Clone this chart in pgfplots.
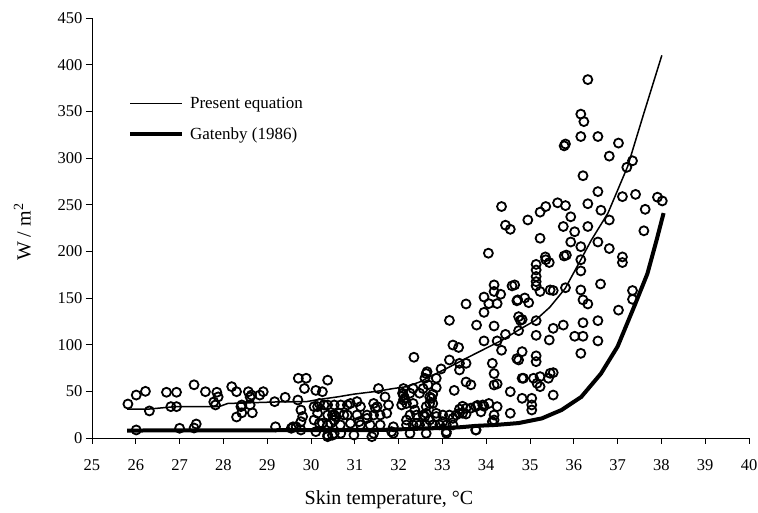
\documentclass[border=0pt]{standalone}
\usepackage{pgfplots}
\pgfplotsset{compat=1.18}
\usepackage{pgfplotstable}
\usepackage{fontspec}
\setmainfont{Liberation Serif}

\pgfplotstableread{
x y
25.82 36.4
26.01 46
26.22 50
26.31 29
26.01 8.6
26.70 49
26.93 49
26.80 33.6
26.93 33.6
27.00 10.4
27.33 57
27.38 15
27.33 10.7
27.59 49.6
27.85 49
27.78 38.6
27.82 35.4
27.88 44
28.19 55
28.30 49.6
28.40 33.6
28.30 22.5
28.42 27
28.57 49.6
28.64 46
28.61 43.9
28.66 27
28.83 46
28.91 49.6
28.42 35.4
28.61 35.4
29.17 38.9
29.41 43.6
29.19 12
29.59 12
29.55 10.4
29.66 12
29.70 40.7
29.71 64
29.89 64
29.85 53
29.77 30
29.81 23
29.77 17.5
29.77 8.6
30.11 51
30.26 49.6
30.38 62
30.15 33.6
30.07 33.6
30.15 26.5
30.07 19.3
30.19 15.7
30.11 6.8
30.19 37
30.30 35.4
30.38 1.4
30.49 3
30.53 19
30.57 23
30.38 3.2
30.49 24.6
30.64 26.5
30.75 24.6
30.90 37
31.05 39
31.13 33.6
31.43 37
31.47 31.8
31.51 33.6
31.54 53
31.69 44
31.77 35.4
31.73 26.5
32.07 35.4
32.11 46
31.28 21
31.10 17.5
30.90 15.7
30.45 15.7
30.26 15.7
30.67 14
31.88 12
31.84 6.8
31.39 1.4
30.98 3.2
32.09 48
32.14 42.5
32.18 37
32.26 48
32.48 48
32.78 47
32.75 42.5
32.78 37
32.11 40.7
32.33 37
32.71 44
32.71 37
32.63 26.5
32.86 26.5
32.71 19.3
32.18 19.3
32.41 15.7
33.01 17.5
33.24 21
33.46 26.5
33.76 33.6
33.54 31.8
33.92 35.4
32.26 5
33.09 6.8
33.76 8.6
32.37 30
32.63 33.6
32.60 23
32.86 23
33.39 31
33.46 34
33.65 32
33.80 35
33.95 34
34.06 37
34.25 33.6
33.39 26.5
33.54 25.7
34.18 19.3
34.55 26.5
33.88 28
34.18 24.6
34.14 17.5
33.77 8.6
32.11 53
32.33 53
32.56 53
32.86 54
32.67 57
32.60 64
32.63 69
32.86 64
33.27 51
33.54 60
33.65 57
30.38 35.4
30.53 35.4
30.68 35.4
30.83 35.4
30.38 24.6
30.53 24.6
30.83 24.6
31.05 24.6
31.28 24.6
31.43 24.6
31.58 24.6
32.26 24.6
32.41 24.6
32.56 24.6
33.01 24.6
33.16 24.6
33.31 24.6
30.38 14
31.13 14
31.35 14
31.58 14
32.18 14
32.33 14
32.48 14
32.63 14
32.78 14
32.94 14
33.09 14
33.24 14
30.53 5
30.68 5
31.43 5
31.88 5
32.63 5
33.09 5
32.35 86.5
33.16 83.6
33.39 80
33.54 80
34.14 80
34.70 85
34.74 83.6
32.97 74
33.39 72.9
32.65 71
34.18 69
34.82 64
34.25 58
34.18 56.8
34.55 49.6
34.82 42.5
33.24 99.6
33.37 97
34.35 94
33.95 104
34.25 104
34.44 111
33.78 121
34.18 120
34.78 126
34.74 130
33.16 126
33.95 134.6
33.54 143.6
33.95 151
34.06 144
34.25 144
34.72 148
34.70 147
34.88 150
34.97 145
34.18 164
34.18 157
34.33 154
34.59 163
34.65 164
34.05 198
34.74 115
34.82 127
35.14 186
35.14 180
35.14 173
35.14 167.5
35.14 163
35.36 191
35.44 188
35.78 195
35.83 196
36.16 191
36.16 179
37.11 188
36.61 165
37.34 158
37.34 148.6
36.16 158.6
35.23 157
35.46 158.6
35.53 158
35.81 161
36.21 148
36.32 143.6
37.02 137
35.14 125.7
35.53 117.5
35.76 121
36.21 123.5
36.55 125.7
35.14 110
36.02 109
36.21 109
36.55 104
35.44 105
36.16 90.7
34.82 92.5
35.14 88
35.14 81.8
35.53 70
35.42 64
35.08 64
35.16 58.6
35.23 65.7
35.46 69.3
35.23 55
35.53 46
35.04 42.5
35.04 35.4
35.04 30
34.85 64
36.32 384
36.16 347
36.23 339
35.81 315
35.78 313
36.16 323
36.55 323
37.02 316
36.81 302
37.34 297
37.21 290
36.21 281
36.55 264
37.11 258.6
37.41 261
37.91 258
38.02 254
34.35 248
35.63 252
35.81 249
36.32 251
36.62 244
35.36 248
35.23 242
35.93 237
34.95 233.6
34.44 228
34.55 223.6
37.63 245
36.81 233.6
35.76 226.6
36.32 226.6
36.02 221
35.23 214
37.60 222
35.93 210
36.55 210
36.16 205
36.81 203
35.35 194
37.11 194
}\scatterdata

\pgfplotstableread{
x y
25.80 31
26.30 31
26.90 33.6
27.90 33.6
28.10 37
29.20 38.6
29.90 39
30.20 41.4
30.60 44
30.98 47
31.50 50
31.88 53
32.18 55
32.48 60
32.86 69
33.24 78
33.61 87
33.99 96
34.37 105
34.74 115.7
35.12 126
35.45 140
35.80 160
36.16 191
36.40 212
36.78 241
37.23 291
37.60 348
38.01 410
}\presenteq

\pgfplotstableread{
x y
25.80 8
31.50 8.5
32.50 10
33.40 11.5
33.77 13
34.22 14
34.74 16
35.27 21
35.72 30
36.17 44
36.62 69
37.00 98
37.38 141
37.68 176
37.89 212
38.05 241
}\gatenby

\begin{document}
\begin{tikzpicture}
\begin{axis}[
  name=ax,
  scale only axis,
  width=657pt, height=420pt,
  xmin=25, xmax=40, ymin=0, ymax=450,
  axis x line*=bottom, axis y line*=left,
  axis line style={line width=0.9pt, -},
  xtick={25,26,...,40}, ytick={0,50,...,450},
  tick align=outside, major tick length=6pt,
  tick style={line width=0.9pt, black},
  /pgf/number format/assume math mode=true,
  tick label style={font=\fontsize{16.5}{20}\selectfont},
  xticklabel style={yshift=-12pt},
  xlabel={Skin temperature, °C},
  xlabel style={at={(axis description cs:0.452,0)}, anchor=center, yshift=-62pt, font=\fontsize{20}{24}\selectfont},
  ylabel={W / m\textsuperscript{2}},
  ylabel style={at={(axis description cs:-0.106,0.49)}, anchor=center, font=\fontsize{20}{24}\selectfont},
  legend style={at={(axis description cs:0.05,0.822)}, anchor=north west, draw=none, fill=none,
    font=\fontsize{17}{20}\selectfont, row sep=14pt},
  legend cell align=left,
  legend image code/.code={\draw[#1] (0pt,0pt) -- (52pt,0pt); \path (56pt,0pt);},
]
\addplot[only marks, mark=o, mark size=4.5pt, black, mark options={line width=1.8pt}, forget plot] table[x=x,y=y] {\scatterdata};
\addplot[black, line width=1.5pt] table[x=x,y=y] {\presenteq};
\addlegendentry{Present equation}
\addplot[black, line width=4pt] table[x=x,y=y] {\gatenby};
\addlegendentry{Gatenby (1986)}
\end{axis}
\pgfresetboundingbox
\path ([shift={(-92pt,-75pt)}]ax.south west) rectangle ([shift={(9pt,18pt)}]ax.north east);
\end{tikzpicture}
\end{document}
